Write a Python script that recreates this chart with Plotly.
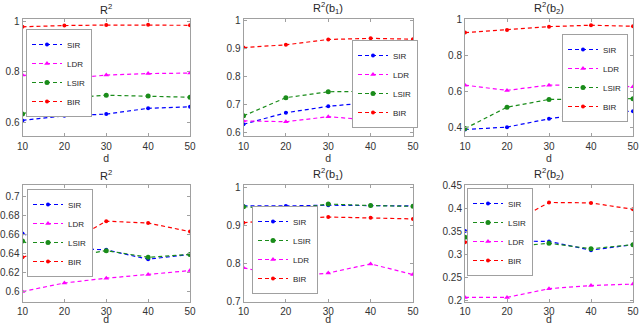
import plotly.graph_objects as go

d = [10, 20, 30, 40, 50]

# Top row
p1_SIR = [0.607, 0.625, 0.632, 0.655, 0.661]
p1_LDR = [0.787, 0.772, 0.787, 0.793, 0.795]
p1_LSIR = [0.632, 0.695, 0.707, 0.704, 0.699]
p1_BIR = [0.979, 0.984, 0.986, 0.987, 0.985]

p2_SIR = [0.630, 0.671, 0.694, 0.708, 0.729]
p2_LDR = [0.642, 0.639, 0.657, 0.645, 0.653]
p2_LSIR = [0.660, 0.725, 0.746, 0.748, 0.760]
p2_BIR = [0.904, 0.914, 0.933, 0.937, 0.934]

p3_SIR = [0.391, 0.404, 0.450, 0.483, 0.492]
p3_LDR = [0.636, 0.607, 0.636, 0.638, 0.627]
p3_LSIR = [0.396, 0.514, 0.557, 0.557, 0.561]
p3_BIR = [0.926, 0.941, 0.959, 0.967, 0.961]

# Bottom row
p4_SIR = [0.661, 0.6456, 0.6438, 0.634, 0.639]
p4_LDR = [0.600, 0.609, 0.614, 0.618, 0.622]
p4_LSIR = [0.653, 0.6356, 0.643, 0.636, 0.639]
p4_BIR = [0.636, 0.649, 0.674, 0.672, 0.663]

p5_SIR = [0.951, 0.951, 0.953, 0.952, 0.951]
p5_LSIR = [0.949, 0.941, 0.956, 0.952, 0.950]
p5_LDR = [0.789, 0.764, 0.775, 0.799, 0.771]
p5_BIR = [0.907, 0.916, 0.922, 0.920, 0.917]

p6_SIR = [0.352, 0.330, 0.329, 0.310, 0.322]
p6_LSIR = [0.338, 0.317, 0.325, 0.313, 0.322]
p6_LDR = [0.207, 0.207, 0.226, 0.233, 0.236]
p6_BIR = [0.327, 0.364, 0.414, 0.413, 0.399]

titles = ["R<sup>2</sup>", "R<sup>2</sup>(b<sub>1</sub>)", "R<sup>2</sup>(b<sub>2</sub>)",
          "R<sup>2</sup>", "R<sup>2</sup>(b<sub>1</sub>)", "R<sup>2</sup>(b<sub>2</sub>)"]

y_ticks = [
    [0.6, 0.8, 1.0],
    [0.6, 0.7, 0.8, 0.9, 1.0],
    [0.4, 0.6, 0.8, 1.0],
    [0.6, 0.62, 0.64, 0.66, 0.68, 0.7],
    [0.7, 0.8, 0.9, 1.0],
    [0.2, 0.25, 0.3, 0.35, 0.4, 0.45],
]
y_tick_text = [
    ["0.6", "0.8", "1"],
    ["0.6", "0.7", "0.8", "0.9", "1"],
    ["0.4", "0.6", "0.8", "1"],
    ["0.6", "0.62", "0.64", "0.66", "0.68", "0.7"],
    ["0.7", "0.8", "0.9", "1"],
    ["0.2", "0.25", "0.3", "0.35", "0.4", "0.45"],
]
y_ranges = [
    [0.545, 1.012],
    [0.588, 1.008],
    [0.355, 1.004],
    [0.589, 0.712],
    [0.699, 1.006],
    [0.197, 0.452],
]

styles = {
    "SIR": dict(color="#0000ff", symbol="circle", size=4),
    "LDR": dict(color="#ff00ff", symbol="triangle-up", size=5),
    "LSIR": dict(color="#1a8c1a", symbol="circle", size=5),
    "BIR": dict(color="#ff0000", symbol="circle", size=4),
}

panels = [
    [("SIR", p1_SIR), ("LDR", p1_LDR), ("LSIR", p1_LSIR), ("BIR", p1_BIR)],
    [("SIR", p2_SIR), ("LDR", p2_LDR), ("LSIR", p2_LSIR), ("BIR", p2_BIR)],
    [("SIR", p3_SIR), ("LDR", p3_LDR), ("LSIR", p3_LSIR), ("BIR", p3_BIR)],
    [("SIR", p4_SIR), ("LDR", p4_LDR), ("LSIR", p4_LSIR), ("BIR", p4_BIR)],
    [("SIR", p5_SIR), ("LSIR", p5_LSIR), ("LDR", p5_LDR), ("BIR", p5_BIR)],
    [("SIR", p6_SIR), ("LSIR", p6_LSIR), ("LDR", p6_LDR), ("BIR", p6_BIR)],
]

W, H = 640, 325
col_px = [(22.5, 190.0), (243.5, 413.0), (465.0, 633.0)]
row_px = [(18.5, 136.0), (185.0, 302.0)]
row_label_standoff = [1, 0]
legend_px = [(26, 29), (352, 40), (562, 34), (27, 189), (252, 206), (467, 188)]

fig = go.Figure()
layout = dict(
    width=W, height=H,
    margin=dict(l=0, r=0, t=0, b=0, autoexpand=False),
    paper_bgcolor="white", plot_bgcolor="white",
    font=dict(family="Liberation Sans, Arial, sans-serif", size=10, color="#262626"),
    annotations=[],
)

for i, series in enumerate(panels):
    r, c = divmod(i, 3)
    n = "" if i == 0 else str(i + 1)
    xa, ya = "x" + n, "y" + n
    leg = "legend" + n
    for name, vals in series:
        st = styles[name]
        fig.add_trace(go.Scatter(
            x=d, y=vals, name=name, mode="lines+markers",
            line=dict(color=st["color"], dash="4px,3px", width=1.2),
            marker=dict(color=st["color"], symbol=st["symbol"], size=st["size"]),
            xaxis=xa, yaxis=ya, legend=leg,
        ))
    x0, x1 = col_px[c]
    y0, y1 = row_px[r]
    dom_x = [x0 / W, x1 / W]
    dom_y = [1 - y1 / H, 1 - y0 / H]
    axis_common = dict(
        showline=True, linecolor="#a0a0a0", linewidth=1, mirror="ticks",
        ticks="inside", ticklen=3, tickcolor="#a0a0a0",
        showgrid=False, zeroline=False, automargin=False,
        tickfont=dict(size=10, color="#333333"),
    )
    layout["xaxis" + n] = dict(
        domain=dom_x, range=[10, 50], tickvals=d, ticktext=[str(v) for v in d],
        anchor=ya, ticklabelstandoff=row_label_standoff[r],
        title=dict(text="d", font=dict(size=10.5, color="#333333"), standoff=0),
        **axis_common,
    )
    layout["yaxis" + n] = dict(
        domain=dom_y, range=y_ranges[i], tickvals=y_ticks[i], ticktext=y_tick_text[i],
        anchor=xa, **axis_common,
    )
    lx, ly = legend_px[i]
    layout[leg] = dict(
        x=lx / W, y=1 - ly / H, xanchor="left", yanchor="top",
        xref="paper", yref="paper",
        bgcolor="white", bordercolor="#a0a0a0", borderwidth=1,
        font=dict(size=8, color="#262626"), itemwidth=30,
        tracegroupgap=0,
    )
    layout["annotations"].append(dict(
        text=titles[i], x=(dom_x[0] + dom_x[1]) / 2, y=dom_y[1],
        xref="paper", yref="paper", xanchor="center", yanchor="bottom",
        yshift=1, showarrow=False, font=dict(size=11, color="#262626"),
    ))

fig.update_layout(**layout)
fig.write_html(
    "out.html",
    config={"displayModeBar": False},
    post_script="document.body.style.margin='0';document.body.style.padding='0';",
)
